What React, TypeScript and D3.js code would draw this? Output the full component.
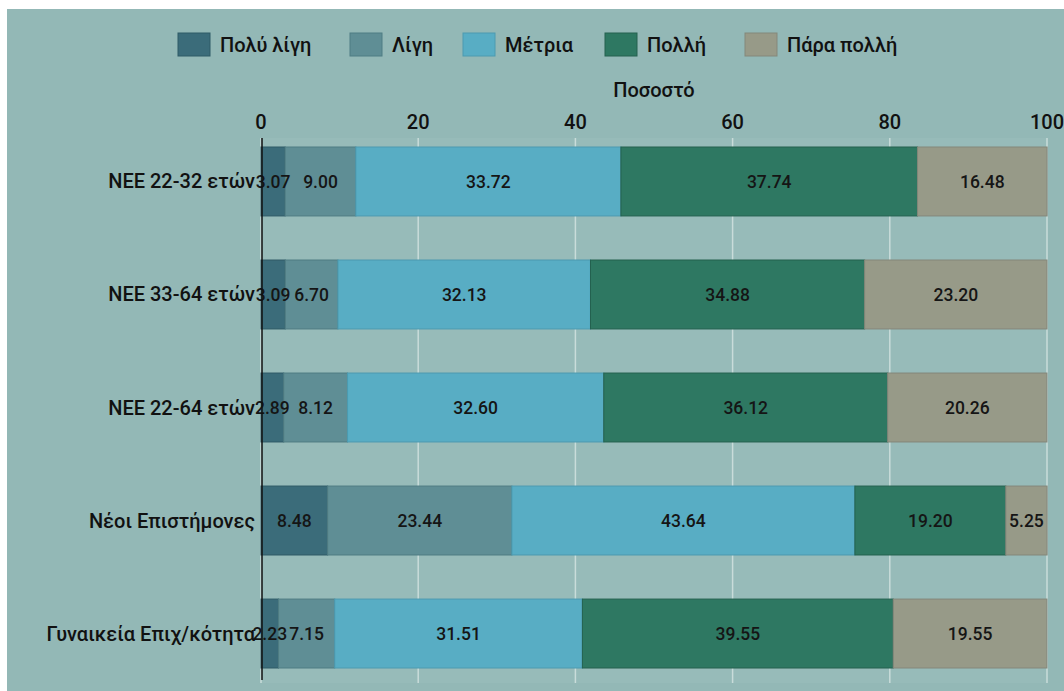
import React from 'react';
import * as d3 from 'd3';

const W = 1064;
const H = 691;

// categories (top to bottom) and series values
const groups = ['ΝΕΕ 22-32 ετών', 'ΝΕΕ 33-64 ετών', 'ΝΕΕ 22-64 ετών', 'Νέοι Επιστήμονες', 'Γυναικεία Επιχ/κότητα'];
const seriesNames = ['Πολύ λίγη', 'Λίγη', 'Μέτρια', 'Πολλή', 'Πάρα πολλή'];
const veryLittle = [3.07, 3.09, 2.89, 8.48, 2.23];
const little = [9.0, 6.7, 8.12, 23.44, 7.15];
const medium = [33.72, 32.13, 32.6, 43.64, 31.51];
const much = [37.74, 34.88, 36.12, 19.2, 39.55];
const veryMuch = [16.48, 23.2, 20.26, 5.25, 19.55];
const xTicks = [0, 20, 40, 60, 80, 100];
const axisTitle = 'Ποσοστό';

const colors = ['#3b6c7a', '#5f8e95', '#58adc4', '#2e7862', '#979a88'];
const strokes = ['#2f5a66', '#4f7c83', '#4c9ab0', '#24614f', '#84877a'];
const font = 'Roboto, "Liberation Sans", sans-serif';

export default function App() {
  const allSeries = [veryLittle, little, medium, much, veryMuch];

  // table of rows for the stack layout
  const table = groups.map((g, i) => {
    const row: any = { group: g };
    seriesNames.forEach((s, j) => { row[s] = allSeries[j][i]; });
    return row;
  });
  const stacked = d3.stack().keys(seriesNames)(table);

  const x = d3.scaleLinear().domain([0, 100]).range([261, 1047]);
  const y = d3.scaleBand().domain(groups).range([147, 668]).paddingInner(0.39).paddingOuter(0);

  const gridTop = 138;
  const gridBottom = 683;

  // legend swatch positions
  const legendX = [178, 350, 463, 605, 745];

  return (
    <svg width={W} height={H} style={{ position: 'absolute', left: 0, top: 0, fontFamily: font }}>
      <rect x={7} y={9} width={W - 7} height={H - 9} fill="#93b8b6" />
      <rect x={x(0)} y={gridTop} width={x(100) - x(0)} height={gridBottom - gridTop} fill="#97bbb9" />

      {/* legend */}
      {seriesNames.map((s, i) => (
        <g key={s} transform={`translate(${legendX[i]},33)`}>
          <rect width={32} height={23} fill={colors[i]} stroke={strokes[i]} />
          <text x={42} y={19} fontSize={20} fontWeight={500} fill="#111">{s}</text>
        </g>
      ))}

      {/* x axis title, ticks and grid */}
      <text x={(x(0) + x(100)) / 2} y={97} textAnchor="middle" fontSize={20} fontWeight={500} fill="#111">{axisTitle}</text>
      {xTicks.map(t => (
        <g key={t}>
          <line x1={x(t)} x2={x(t)} y1={gridTop} y2={gridBottom} stroke="#c9dcda" strokeWidth={1.5} />
          <text x={x(t)} y={129} textAnchor="middle" fontSize={20} fontWeight={500} fill="#111">{t}</text>
        </g>
      ))}

      {/* bars */}
      {stacked.map((layer, j) => (
        <g key={layer.key}>
          {layer.map((d, i) => (
            <rect key={groups[i]} x={x(d[0])} y={y(groups[i]) as number} width={x(d[1]) - x(d[0])}
              height={y.bandwidth()} fill={colors[j]} stroke={strokes[j]} strokeWidth={1} />
          ))}
        </g>
      ))}

      {/* value labels drawn above all segments */}
      {stacked.map((layer, j) => (
        <g key={layer.key + '-lbl'}>
          {layer.map((d, i) => (
            <text key={groups[i]} x={(x(d[0]) + x(d[1])) / 2} y={(y(groups[i]) as number) + y.bandwidth() / 2}
              dy="0.35em" textAnchor="middle" fontSize={17.5} fontWeight={500} fill="#151515">
              {allSeries[j][i].toFixed(2)}
            </text>
          ))}
        </g>
      ))}

      {/* y axis */}
      <line x1={262} x2={262} y1={gridTop} y2={gridBottom - 3} stroke="#111" strokeWidth={1.5} />
      {groups.map(g => (
        <text key={g} x={255} y={(y(g) as number) + y.bandwidth() / 2} dy="0.35em" textAnchor="end"
          fontSize={20} fontWeight={500} fill="#111">{g}</text>
      ))}
    </svg>
  );
}
